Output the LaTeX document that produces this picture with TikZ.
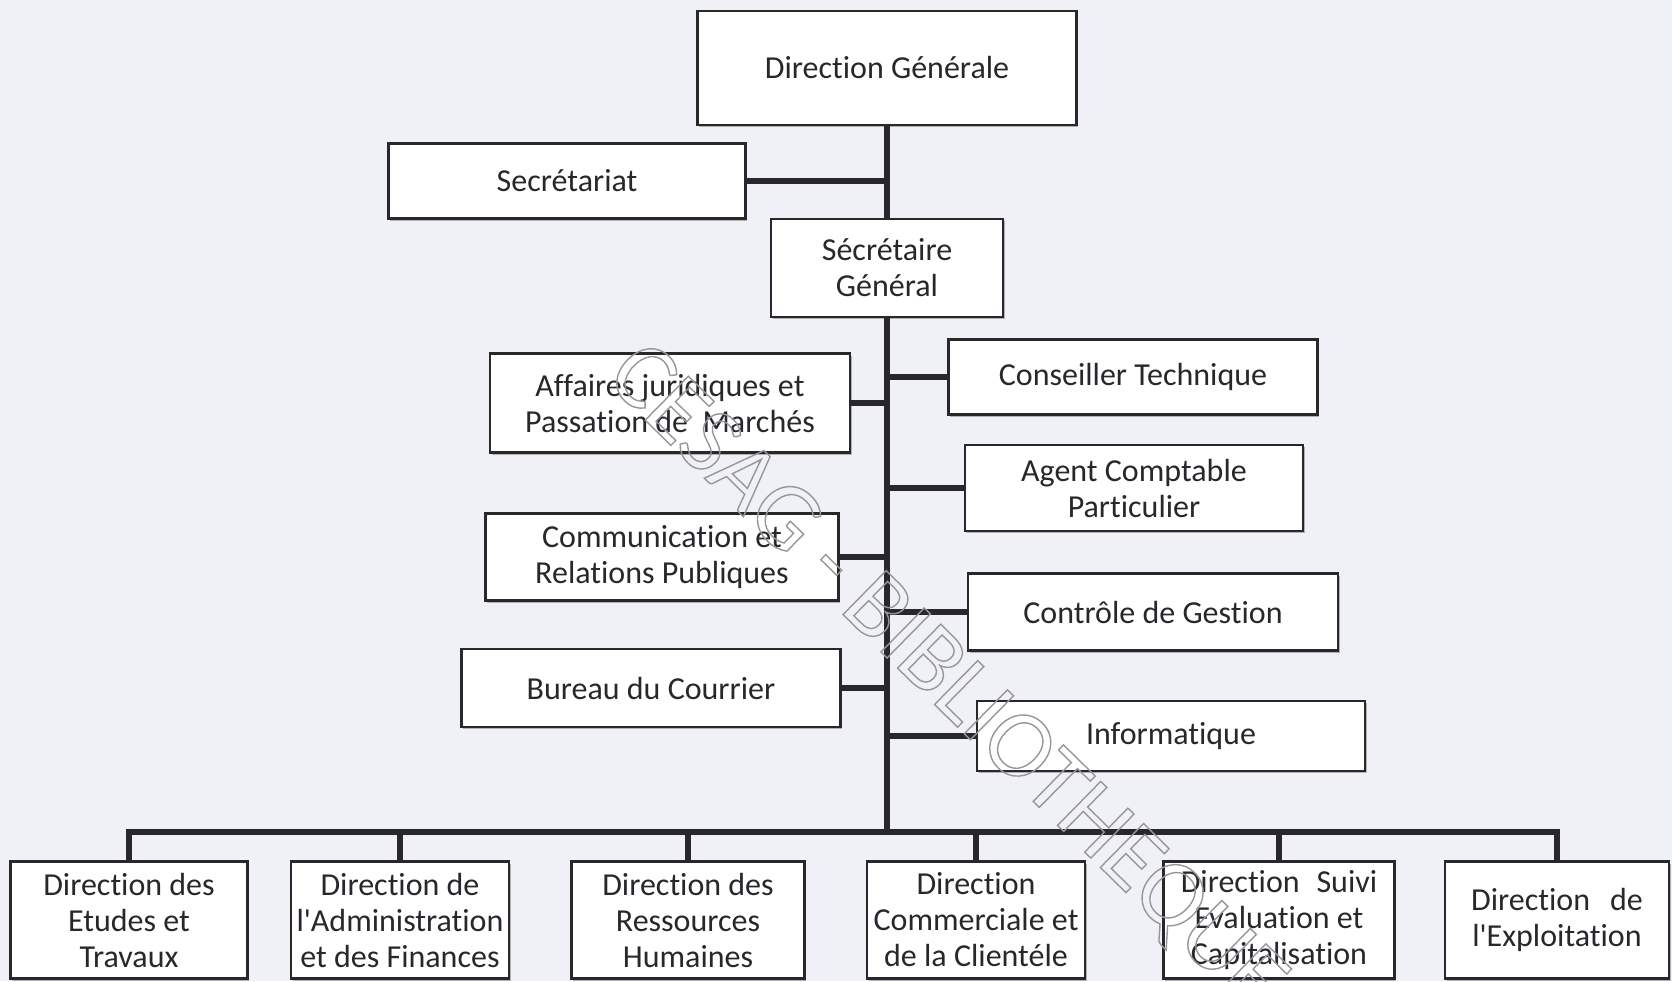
\documentclass[tikz,border=0pt]{standalone}
\usepackage{fontspec}
\setmainfont{Carlito}[Ligatures=NoCommon]
\usetikzlibrary{shadows}
\definecolor{paper}{RGB}{240,241,246}
\definecolor{ink}{RGB}{40,40,44}
\definecolor{wmgray}{RGB}{150,150,155}
\newcommand{\outlined}[1]{\special{pdf:literal direct 1 Tr 0.7 w}#1\special{pdf:literal direct 0 Tr}}

\begin{document}
\begin{tikzpicture}[
    x=0.5pt, y=-0.5pt,
    font=\fontsize{16}{18}\selectfont,
    every node/.append style={align=center, text=ink, inner sep=0pt},
    box/.style={draw=ink, line width=1.1pt, fill=white,
        drop shadow={shadow xshift=0.8pt, shadow yshift=-1.2pt, opacity=0.5, fill=black!55}},
    sz/.style 2 args={minimum width=#1*0.5pt, minimum height=#2*0.5pt},
    link/.style={draw=ink, line width=3pt},
    wmark/.style={font=\fontsize{48}{48}\selectfont, rotate=-44.5, text=wmgray}
]
    \useasboundingbox (0,0) rectangle (1672,981);
    \fill[paper] (0,0) rectangle (1672,981);

    % top of the chart
    \node[box, sz={379}{114}] (dg)   at (887,68)    {Direction Générale};
    \node[box, sz={357}{75}]  (secr) at (567,181)   {Secrétariat};
    \node[box, sz={232}{98}]  (sg)   at (887,268)   {Sécrétaire\\Général};

    % services on the left
    \node[box, sz={360}{99}]  (aff)  at (670,403)   {Affaires juridiques et\\Passation de\ \ Marchés};
    \node[box, sz={353}{87}]  (comm) at (662,557)   {Communication et\\Relations Publiques};
    \node[box, sz={379}{78}]  (bur)  at (651,688)   {Bureau du Courrier};

    % services on the right
    \node[box, sz={369}{75}]  (cons)  at (1133,377) {Conseiller Technique};
    \node[box, sz={338}{86}]  (agent) at (1134,488) {Agent Comptable\\Particulier};
    \node[box, sz={370}{77}]  (ctrl)  at (1153,612) {Contrôle de Gestion};
    \node[box, sz={388}{70}]  (info)  at (1171,736) {Informatique};

    % directions
    \node[box, sz={237}{117}] (etud)  at (129,920)  {Direction des\\Etudes et\\Travaux};
    \node[box, sz={218}{117}] (adm)   at (400,920)  {Direction de\\l\textquotesingle Administration\\et des Finances};
    \node[box, sz={233}{117}] (rh)    at (688,920)  {Direction des\\Ressources\\Humaines};
    \node[box, sz={218}{117}] (comc)  at (976,920)  {Direction\\Commerciale et\\de la Clientéle};
    \node[box, sz={231}{117}] (suivi) at (1279,920) {Direction\hspace{0.3em} Suivi\\Evaluation et\\Capitalisation};
    \node[box, sz={224}{117}] (expl)  at (1557,920) {Direction\hspace{0.4em} de\\l\textquotesingle Exploitation};

    \coordinate (bus) at (887,832);

    \draw[link] (dg.south) -- (sg.north);
    \draw[link] (sg.south) -- (bus);
    \draw[link] (secr.east) -- (secr.east -| dg.south);
    \foreach \n in {aff,comm,bur}
        \draw[link] (\n.east) -- (\n.east -| bus);
    \foreach \n in {cons,agent,ctrl,info}
        \draw[link] (\n.west) -- (\n.west -| bus);
    \draw[link] (etud.north) |- (bus) -| (expl.north);
    \foreach \n in {adm,rh,comc,suivi}
        \draw[link] (\n.north) -- (\n.north |- bus);

    % watermark
    \node[wmark] (wmtext) at (945,680) {\outlined{CESAG - BIBLIOTHEQUE}};
\end{tikzpicture}
\end{document}
